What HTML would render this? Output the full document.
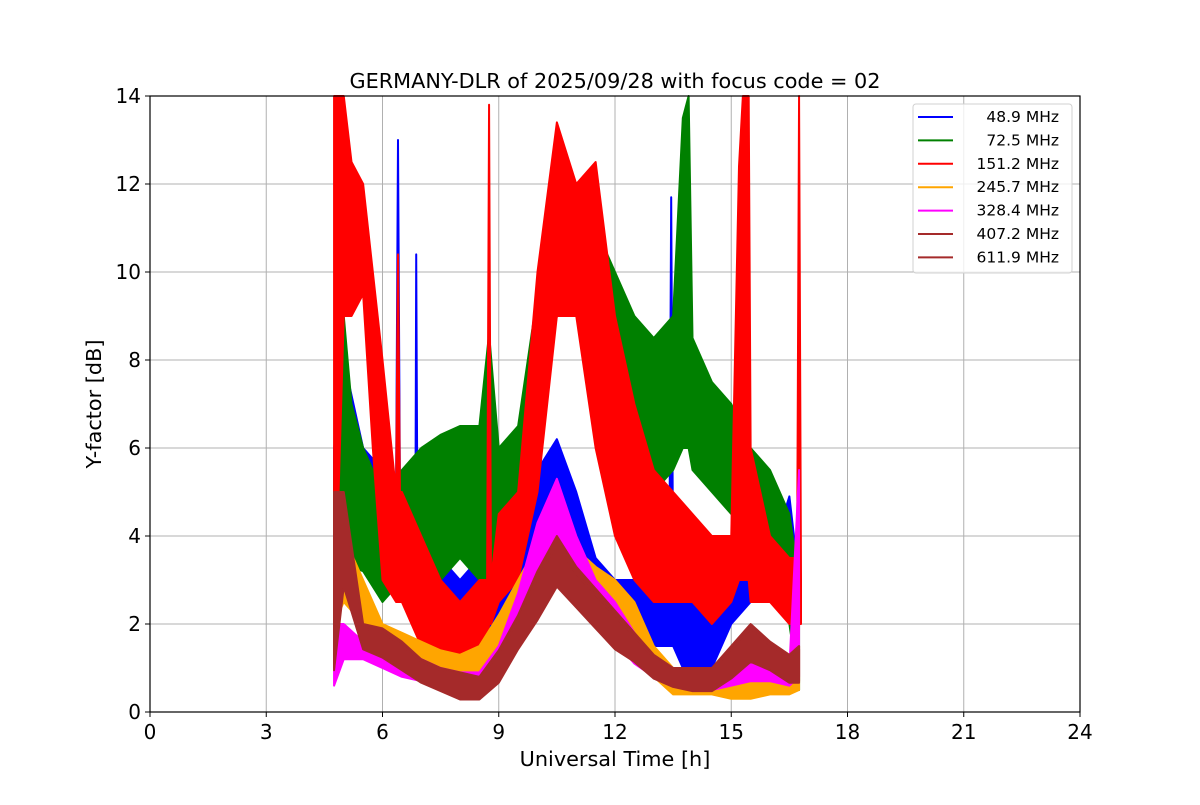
<!DOCTYPE html>
<html><head><meta charset="utf-8"><style>
body{margin:0;background:#fff;}
svg text{font-family:"DejaVu Sans","Liberation Sans",sans-serif;fill:#000;}
</style></head><body>
<svg id="chart" width="1200" height="800" xmlns="http://www.w3.org/2000/svg">
<rect width="1200" height="800" fill="#fff"/>
<text x="615" y="88" font-size="20.8" text-anchor="middle">GERMANY-DLR of 2025/09/28 with focus code = 02</text>
<g id="grid"></g>
<g id="series"></g>
<rect x="150" y="96" width="930" height="616" fill="none" stroke="#000" stroke-width="1.2"/>
<g id="ticks"></g>
<text x="615" y="766" font-size="20.8" text-anchor="middle">Universal Time [h]</text>
<text transform="translate(101,404) rotate(-90)" font-size="20.8" text-anchor="middle">Y-factor [dB]</text>
<g id="legend"></g>
</svg>
<script>
const xTicks=[0,3,6,9,12,15,18,21,24];
const yTicks=[0,2,4,6,8,10,12,14];
const seriesNames=[" 48.9 MHz"," 72.5 MHz","151.2 MHz","245.7 MHz","328.4 MHz","407.2 MHz","611.9 MHz"];
const seriesColors=["blue","green","red","orange","magenta","brown","brown"];
const blueT=[4.75,5.0,5.5,6.0,6.35,6.4,6.45,6.5,6.85,6.87,6.9,7.0,7.5,8.0,8.5,9.0,9.5,10.0,10.5,11.0,11.5,12.0,12.5,13.0,13.4,13.45,13.5,14.0,14.5,15.0,15.5,16.0,16.5,16.75];
const blueLo=[3,4.5,4,3.5,3,3,3,2.5,2.5,2.5,2.5,2,1.5,1.5,1.5,2,2.5,3.5,4,3,2,1.5,1.5,1.5,1.5,1.5,1.5,0.5,1,2,2.5,2.5,2.5,2];
const blueHi=[6,8,6,5.5,5,13,5,4.5,4.5,10.4,4.5,4,3.5,3,3.5,3.5,4,5.5,6.2,5,3.5,3,3,3,3,11.7,3,2.5,2.5,3,3.5,3.5,4.9,3];
const greenT=[4.75,4.85,5.0,5.2,5.5,6.0,6.5,7.0,7.5,8.0,8.5,8.75,9.0,9.5,10.0,10.5,11.0,11.5,12.0,12.5,13.0,13.5,13.75,13.9,14.0,14.5,15.0,15.5,16.0,16.5,16.75];
const greenLo=[3,3.5,3.5,3.3,3.2,2.5,3,3.5,3,3.5,3,3,3,4.5,6.5,9,9.5,8,7,6,5,5.5,6,6,5.5,5,4.5,4,3.5,2,0.5];
const greenHi=[5,13,9,7,6,5,5.5,6,6.3,6.5,6.5,8.6,6,6.5,9.5,12,11.5,11,10,9,8.5,9,13.5,14,8.5,7.5,7,6,5.5,4.5,3];
const redT=[4.75,4.8,5.0,5.2,5.5,5.75,6.0,6.35,6.4,6.45,6.5,7.0,7.5,8.0,8.5,8.7,8.75,8.8,9.0,9.5,10.0,10.5,11.0,11.5,12.0,12.5,13.0,13.5,14.0,14.5,15.0,15.2,15.3,15.45,15.5,16.0,16.5,16.7,16.75,16.8];
const redLo=[2.5,3,9,9,9.5,6,3,2.5,2.5,2.5,2.5,1.5,1,1,1.5,1.5,2,2,2.5,3,5,9,9,6,4,3,2.5,2.5,2.5,2,2.5,3,3,3,2.5,2.5,2,2,2,2];
const redHi=[14,14,14,12.5,12,10,8,5,10.4,5,5,4,3,2.5,3,3,13.8,3,4.5,5,10,13.4,12,12.5,9,7,5.5,5,4.5,4,4,12.4,14,14,6,4,3.5,3.5,14,3];
const orangeT=[4.75,5.0,5.5,6.0,6.5,7.0,7.5,8.0,8.5,9.0,9.5,10.0,10.5,11.0,11.5,12.0,12.5,13.0,13.5,14.0,14.5,15.0,15.5,16.0,16.5,16.75];
const orangeLo=[2,2.5,2,1.3,1,0.9,0.8,0.8,0.8,1.2,2,2.8,3,2.8,2.2,1.8,1.2,0.8,0.4,0.4,0.4,0.3,0.3,0.4,0.4,0.5];
const orangeHi=[4,4,3,2,1.8,1.6,1.4,1.3,1.5,2.2,3,3.8,3.9,3.7,3.3,3,2.5,1.5,1,0.9,1,1,1,1,1,1.5];
const magentaT=orangeT;
const magentaLo=[0.6,1.2,1.2,1,0.8,0.7,0.6,0.5,0.5,0.8,1.8,2.8,3.5,3,2.2,1.6,1.1,0.8,0.6,0.5,0.5,0.6,0.7,0.7,0.6,0.8];
const magentaHi=[2,2,1.6,1.5,1.3,1.2,1,0.9,0.9,1.5,2.7,4.3,5.3,4,3,2.5,1.8,1.2,1,0.9,1,1.3,1.3,1.2,1,5.5];
const brownT=orangeT;
const brownLo=[1,3,1.5,1.3,1,0.7,0.5,0.3,0.3,0.7,1.5,2.2,3,2.5,2,1.5,1.2,0.8,0.6,0.5,0.5,0.8,1.2,1,0.7,0.7];
const brownHi=[5,5,2,1.9,1.6,1.2,1,0.9,0.8,1.4,2.2,3.2,4,3.3,2.8,2.3,1.8,1.3,1,1,1,1.5,2,1.6,1.3,1.5];
const brown2Lo=brownLo.map(v=>v*0.95);
const brown2Hi=brownHi.map(v=>v*0.95);

const X0=150,X1=1080,Y0=712,Y1=96;
const xs=t=>X0+(t/24)*(X1-X0);
const ys=v=>Y0-(v/14)*(Y0-Y1);
const NS="http://www.w3.org/2000/svg";
function mk(tag,attrs,parent){const e=document.createElementNS(NS,tag);for(const k in attrs)e.setAttribute(k,attrs[k]);parent.appendChild(e);return e;}
const grid=document.getElementById('grid'),ticks=document.getElementById('ticks');
xTicks.forEach(t=>{
  const l=mk('line',{x1:xs(t),x2:xs(t),y1:Y1,y2:Y0,stroke:'#b0b0b0','stroke-width':1},grid);
  
  
  mk('line',{x1:xs(t),x2:xs(t),y1:Y0,y2:Y0+5,stroke:'#000'},ticks);
  const tx=mk('text',{x:xs(t),y:Y0+27,'font-size':20,'text-anchor':'middle'},ticks);
  tx.textContent=t;
  
  
});
yTicks.forEach(v=>{
  const l=mk('line',{x1:X0,x2:X1,y1:ys(v),y2:ys(v),stroke:'#b0b0b0','stroke-width':1},grid);
  
  
  mk('line',{x1:X0-5,x2:X0,y1:ys(v),y2:ys(v),stroke:'#000'},ticks);
  const tx=mk('text',{x:X0-9,y:ys(v)+7,'font-size':20,'text-anchor':'end'},ticks);
  tx.textContent=v;
  
  
});
const seriesData=[[blueT,blueLo,blueHi],[greenT,greenLo,greenHi],[redT,redLo,redHi],[orangeT,orangeLo,orangeHi],[magentaT,magentaLo,magentaHi],[brownT,brownLo,brownHi],[brownT,brown2Lo,brown2Hi]];
const sg=document.getElementById('series');
seriesData.forEach((d,i)=>{
  const [T,L,H]=d;
  let pts=T.map((t,j)=>xs(t)+','+ys(H[j]));
  for(let j=T.length-1;j>=0;j--)pts.push(xs(T[j])+','+ys(L[j]));
  const p=mk('polygon',{points:pts.join(' '),fill:seriesColors[i],stroke:seriesColors[i],'stroke-width':2,'stroke-linejoin':'round'},sg);
  
  
});
const lg=document.getElementById('legend');
const box=mk('rect',{x:913,y:104,width:159,height:169,rx:3,fill:'#fff','fill-opacity':0.8,stroke:'#d0d0d0'},lg);


seriesNames.forEach((n,i)=>{
  const y=117+i*23.4;
  const l=mk('line',{x1:918,x2:953,y1:y,y2:y,stroke:seriesColors[i],'stroke-width':2},lg);
  
  
  const t=mk('text',{x:1059,y:y+5,'font-size':15.5,'text-anchor':'end'},lg);
  t.textContent=n.trim();
  
  
});
</script>
</body></html>
